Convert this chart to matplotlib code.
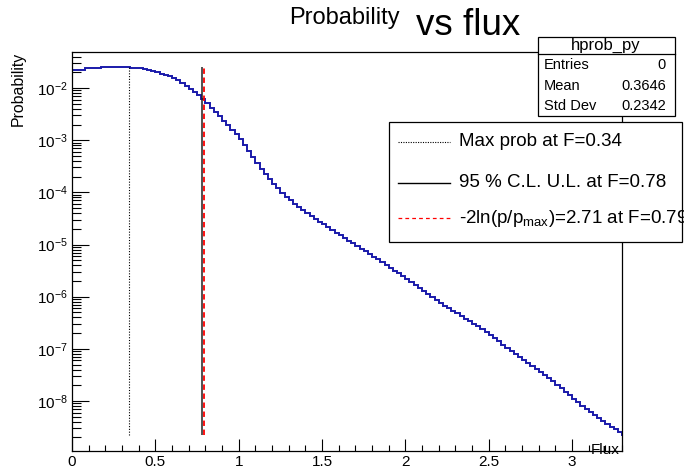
import matplotlib
matplotlib.use("Agg")
import matplotlib.pyplot as plt
import numpy as np
from matplotlib.patches import Rectangle
from matplotlib.lines import Line2D
from matplotlib.ticker import LogLocator, NullFormatter, MultipleLocator, FuncFormatter, FixedLocator

plt.rcParams['font.family'] = ['Liberation Sans', 'DejaVu Sans']
plt.rcParams['mathtext.fontset'] = 'custom'
plt.rcParams['mathtext.rm'] = 'Liberation Sans'
plt.rcParams['mathtext.default'] = 'regular'

# histogram hprob_py: bin width and log10(probability) per bin
bin_width = 0.025
log_prob = [
    -1.649, -1.649, -1.649, -1.617, -1.617, -1.617, -1.617, -1.591, -1.591, -1.591,
    -1.591, -1.591, -1.591, -1.591, -1.617, -1.617, -1.617,
    -1.640, -1.660, -1.680, -1.700, -1.722, -1.749, -1.775, -1.802, -1.850, -1.904,
    -1.957, -2.012, -2.077, -2.141, -2.210, -2.293, -2.377, -2.460, -2.543, -2.630,
    -2.716, -2.803, -2.889, -2.980, -3.094, -3.212, -3.330, -3.440, -3.548, -3.644,
    -3.740, -3.835, -3.925, -4.010, -4.085, -4.155, -4.220, -4.285, -4.345, -4.400,
    -4.455, -4.510, -4.562, -4.615, -4.668, -4.720, -4.772, -4.824, -4.876, -4.928,
    -4.980, -5.032, -5.084, -5.130, -5.180, -5.232, -5.285, -5.339, -5.392, -5.446,
    -5.499, -5.553, -5.606, -5.662, -5.719, -5.775, -5.832, -5.889, -5.945, -6.002,
    -6.059, -6.115, -6.171, -6.221, -6.271, -6.321, -6.371, -6.421, -6.471, -6.521,
    -6.571, -6.621, -6.677, -6.737, -6.797, -6.858, -6.918, -6.978, -7.038, -7.099,
    -7.159, -7.219, -7.277, -7.335, -7.393, -7.451, -7.509, -7.567, -7.625, -7.690,
    -7.756, -7.823, -7.890, -7.956, -8.023, -8.090, -8.150, -8.207, -8.263, -8.320,
    -8.376, -8.433, -8.490, -8.546, -8.603, -8.659,
]
prob = 10.0 ** np.array(log_prob)
edges = np.arange(len(prob) + 1) * bin_width

f_max = 0.34
f_ul = 0.78
f_2ln = 0.79

y_decades = [1e-8, 1e-7, 1e-6, 1e-5, 1e-4, 1e-3, 1e-2]

stats_name = "hprob_py"
stats_rows = [("Entries", "0"), ("Mean", "0.3646"), ("Std Dev", "0.2342")]
legend_texts = ["Max prob at F=0.34", "95 % C.L. U.L. at F=0.78",
                r"-2ln(p/p$_{\rm max}$)=2.71 at F=0.79"]

W, H = 684, 470
fig = plt.figure(figsize=(W / 100, H / 100), dpi=100)

def fx(x):
    return x / W

def fy(y):
    return 1 - y / H

ax = fig.add_axes([fx(72), fy(451), fx(622) - fx(72), fy(51.7) - fy(451)])
ax.set_yscale('log')
ax.stairs(prob, edges, baseline=None, color='#1a1aaa', lw=1.4)
pmin, pmax = prob.min(), prob.max()
ax.vlines(f_max, pmin, pmax, colors='black', linestyles=(0, (1, 1.5)), lw=0.8)
ax.vlines(f_ul, pmin, pmax, colors='#222222', lw=1.1)
ax.vlines(f_2ln, pmin, pmax, colors='red', linestyles=(0, (3, 2)), lw=1.3)

ax.set_xlim(0, 3.3)
ax.set_ylim(1.1e-9, 0.0498)
ax.xaxis.set_major_locator(MultipleLocator(0.5))
ax.xaxis.set_minor_locator(MultipleLocator(0.1))
ax.xaxis.set_major_formatter(FuncFormatter(lambda v, p: "%g" % v))
ax.yaxis.set_major_locator(FixedLocator(y_decades))
ax.yaxis.set_minor_locator(LogLocator(base=10, subs=np.arange(2, 10), numticks=100))
ax.yaxis.set_minor_formatter(NullFormatter())
ax.tick_params(axis='x', which='major', direction='in', length=8.6, width=0.8,
               labelsize=11, pad=3)
ax.tick_params(axis='x', which='minor', direction='in', length=4.3, width=0.8)
ax.tick_params(axis='y', which='major', direction='in', length=12, width=0.8,
               labelsize=11, pad=3)
ax.tick_params(axis='y', which='minor', direction='in', length=6.5, width=0.8)
for s in ax.spines.values():
    s.set_linewidth(0.9)

fig.text(fx(18), fy(89), "Probability", rotation=90, ha='center', va='center', fontsize=11.4)
fig.text(fx(620), fy(450.5), "Flux", ha='right', va='center', fontsize=11)

# title: small "Probability" then large "vs flux"
fig.text(fx(289), fy(24), "Probability", ha='left', va='baseline', fontsize=17)
fig.text(fx(416), fy(35), "vs flux", ha='left', va='baseline', fontsize=26.5)

# stats box
fig.add_artist(Rectangle((fx(537.7), fy(115.7)), fx(675) - fx(537.7), fy(36.7) - fy(115.7),
                         transform=fig.transFigure, facecolor='white', edgecolor='black', lw=0.9))
fig.add_artist(Line2D([fx(537.7), fx(675)], [fy(54.3), fy(54.3)], transform=fig.transFigure,
                      color='black', lw=0.9))
fig.text(fx(606), fy(45.5), stats_name, ha='center', va='center', fontsize=12)
for i, (k, v) in enumerate(stats_rows):
    yy = 65 + i * 20.5
    fig.text(fx(544), fy(yy), k, ha='left', va='center', fontsize=10.5)
    fig.text(fx(666), fy(yy), v, ha='right', va='center', fontsize=10.5)

# legend box
fig.add_artist(Rectangle((fx(389), fy(241.7)), fx(681.7) - fx(389), fy(122.3) - fy(241.7),
                         transform=fig.transFigure, facecolor='white', edgecolor='black', lw=0.9))
styles = [dict(color='black', ls=(0, (1, 1.2)), lw=0.8),
          dict(color='black', ls='-', lw=1.0),
          dict(color='red', ls=(0, (3, 2.5)), lw=0.9)]
rows_y = [141.7, 182.7, 218.3]
for yy, st, txt in zip(rows_y, styles, legend_texts):
    fig.add_artist(Line2D([fx(398), fx(450)], [fy(yy), fy(yy)], transform=fig.transFigure, **st))
    fig.text(fx(459), fy(yy), txt, ha='left', va='center', fontsize=13.5)

fig.savefig("out.png", dpi=100)
